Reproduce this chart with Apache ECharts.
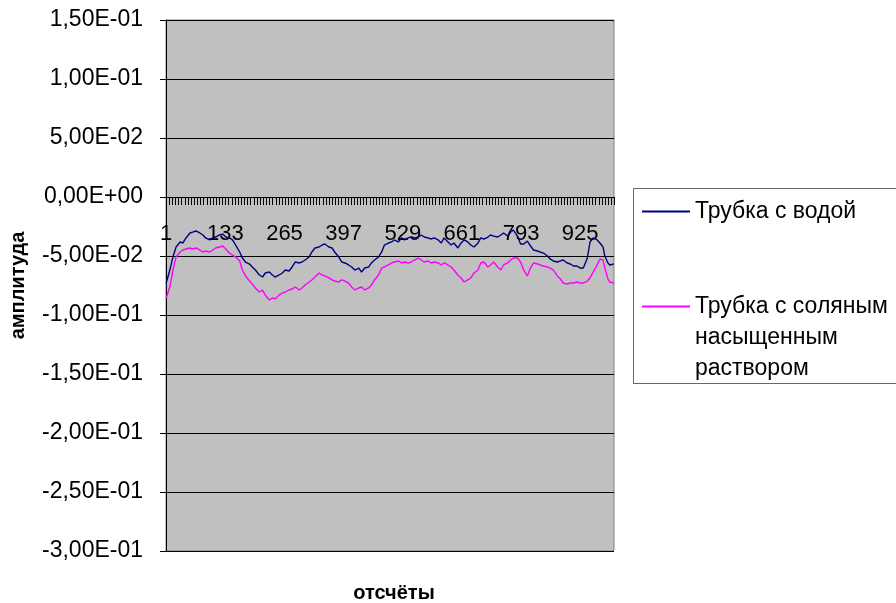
<!DOCTYPE html>
<html>
<head>
<meta charset="utf-8">
<script src="https://cdn.jsdelivr.net/npm/echarts@6/dist/echarts.min.js"></script>
<style>
  html, body { margin: 0; padding: 0; background: #fff; }
  #chart { width: 896px; height: 603px; }
</style>
</head>
<body>
<div id="chart"></div>
<script>
// ---- data ----
const sampleCount = 1000; // number of samples (категории 1..1000)
const categories = Array.from({ length: sampleCount }, (_, i) => String(i + 1));

const seriesNames = ['Трубка с водой', 'Трубка с соляным насыщенным раствором'];
const legendLabels = ['Трубка с водой', '\n\nТрубка с соляным\nнасыщенным\nраствором'];

const xTitle = 'отсчёты';
const yTitle = 'амплитуда';

const sampleIdx = [
  0, 8, 15, 22, 31, 37, 44, 53, 59, 66,
  75, 82, 88, 97, 104, 110, 119, 126, 133, 141,
  148, 155, 164, 170, 177, 186, 192, 199, 208, 215,
  221, 230, 237, 243, 252, 259, 266, 274, 281, 288,
  297, 303, 310, 319, 325, 332, 341, 348, 354, 363,
  370, 376, 385, 392, 399, 407, 414, 421, 430, 436,
  443, 452, 458, 465, 474, 481, 487, 496, 503, 509,
  518, 525, 532, 540, 547, 554, 563, 569, 576, 585,
  591, 598, 607, 614, 620, 629, 636, 642, 651, 658,
  665, 673, 680, 687, 696, 702, 709, 718, 724, 731,
  740, 747, 753, 762, 769, 775, 784, 791, 798, 806,
  813, 820, 829, 835, 842, 851, 857, 864, 873, 880,
  886, 895, 902, 909, 917, 924, 931, 940, 946, 953,
  962, 968, 975, 979, 986, 990, 999
];

const waterValues = [
  -0.0729, -0.0619, -0.0508, -0.0424, -0.0381, -0.0390, -0.0347, -0.0305, -0.0297, -0.0288,
  -0.0305, -0.0322, -0.0347, -0.0364, -0.0347, -0.0339, -0.0322, -0.0314, -0.0339, -0.0347,
  -0.0364, -0.0407, -0.0466, -0.0517, -0.0551, -0.0568, -0.0593, -0.0619, -0.0661, -0.0678,
  -0.0644, -0.0636, -0.0661, -0.0678, -0.0661, -0.0644, -0.0619, -0.0627, -0.0593, -0.0551,
  -0.0559, -0.0551, -0.0534, -0.0508, -0.0466, -0.0432, -0.0424, -0.0407, -0.0398, -0.0424,
  -0.0432, -0.0466, -0.0508, -0.0551, -0.0559, -0.0576, -0.0593, -0.0619, -0.0602, -0.0636,
  -0.0602, -0.0593, -0.0559, -0.0534, -0.0508, -0.0466, -0.0407, -0.0390, -0.0381, -0.0364,
  -0.0381, -0.0347, -0.0364, -0.0347, -0.0339, -0.0347, -0.0339, -0.0322, -0.0339, -0.0347,
  -0.0356, -0.0347, -0.0364, -0.0390, -0.0347, -0.0381, -0.0407, -0.0390, -0.0432, -0.0390,
  -0.0364, -0.0381, -0.0407, -0.0424, -0.0390, -0.0347, -0.0356, -0.0339, -0.0322, -0.0331,
  -0.0339, -0.0322, -0.0305, -0.0331, -0.0297, -0.0280, -0.0331, -0.0398, -0.0398, -0.0373,
  -0.0415, -0.0449, -0.0458, -0.0466, -0.0475, -0.0500, -0.0525, -0.0542, -0.0551, -0.0542,
  -0.0534, -0.0559, -0.0568, -0.0585, -0.0585, -0.0602, -0.0602, -0.0517, -0.0381, -0.0347,
  -0.0364, -0.0390, -0.0424, -0.0500, -0.0559, -0.0576, -0.0568
];

const salineValues = [
  -0.0856, -0.0763, -0.0619, -0.0508, -0.0466, -0.0449, -0.0441, -0.0432, -0.0441, -0.0432,
  -0.0449, -0.0466, -0.0458, -0.0466, -0.0449, -0.0432, -0.0424, -0.0415, -0.0441, -0.0475,
  -0.0492, -0.0508, -0.0542, -0.0619, -0.0669, -0.0712, -0.0737, -0.0771, -0.0805, -0.0788,
  -0.0831, -0.0873, -0.0856, -0.0864, -0.0831, -0.0814, -0.0805, -0.0788, -0.0780, -0.0763,
  -0.0788, -0.0771, -0.0746, -0.0720, -0.0703, -0.0678, -0.0644, -0.0661, -0.0669, -0.0686,
  -0.0703, -0.0712, -0.0720, -0.0703, -0.0712, -0.0729, -0.0763, -0.0788, -0.0771, -0.0763,
  -0.0788, -0.0771, -0.0746, -0.0703, -0.0661, -0.0602, -0.0593, -0.0576, -0.0559, -0.0551,
  -0.0542, -0.0559, -0.0551, -0.0559, -0.0551, -0.0534, -0.0517, -0.0534, -0.0551, -0.0542,
  -0.0559, -0.0551, -0.0559, -0.0576, -0.0559, -0.0576, -0.0593, -0.0619, -0.0661, -0.0686,
  -0.0720, -0.0703, -0.0686, -0.0644, -0.0619, -0.0559, -0.0551, -0.0593, -0.0576, -0.0551,
  -0.0593, -0.0619, -0.0576, -0.0559, -0.0534, -0.0517, -0.0517, -0.0551, -0.0619, -0.0669,
  -0.0602, -0.0559, -0.0568, -0.0576, -0.0585, -0.0593, -0.0602, -0.0619, -0.0669, -0.0695,
  -0.0729, -0.0737, -0.0729, -0.0729, -0.0720, -0.0729, -0.0729, -0.0712, -0.0686, -0.0636,
  -0.0576, -0.0525, -0.0534, -0.0602, -0.0695, -0.0720, -0.0729
];

const yMin = -0.3, yMax = 0.15, yStep = 0.05;

// ---- helpers ----
function sci(v) {
  if (Math.abs(v) < 1e-12) v = 0;
  const s = v.toExponential(2);
  const parts = s.split('e');
  const sign = parts[1][0] === '-' ? '-' : '+';
  const ex = parts[1].replace(/^[+-]/, '').padStart(2, '0');
  return parts[0].replace('.', ',') + 'E' + sign + ex;
}
const FONT = "'Liberation Sans', Arial, sans-serif";

const gridTop = 20, gridHeight = 531;
// category axis crosses the value axis at 0: shift it up from the grid bottom accordingly
const zeroOffset = -gridHeight * (0 - yMin) / (yMax - yMin);

const chart = echarts.init(document.getElementById('chart'), null, { renderer: 'canvas' });

const legendText = { fontFamily: FONT, fontSize: 23, color: '#000', lineHeight: 31 };

chart.setOption({
  animation: false,
  backgroundColor: '#ffffff',
  title: [{
    text: xTitle,
    left: 389, top: 578, textAlign: 'center',
    textStyle: { fontFamily: FONT, fontSize: 20, fontWeight: 'bold', color: '#000' }
  }],
  grid: {
    left: 163, top: gridTop, width: 451, height: gridHeight,
    show: true, backgroundColor: '#c0c0c0', borderColor: '#808080', borderWidth: 1
  },
  legend: [
    {
      data: [seriesNames[0]], orient: 'vertical', left: 642, top: 196, padding: 0,
      itemWidth: 48, itemHeight: 2, icon: 'rect', selectedMode: false,
      formatter: () => legendLabels[0],
      textStyle: legendText
    },
    {
      data: [seriesNames[1]], orient: 'vertical', left: 642, top: 229, padding: 0,
      itemWidth: 48, itemHeight: 2, icon: 'rect', selectedMode: false,
      formatter: () => legendLabels[1],
      textStyle: legendText
    }
  ],
  graphic: [{
    type: 'rect', silent: true, z: -1,
    shape: { x: 633.5, y: 188.5, width: 300, height: 195 },
    style: { fill: '#ffffff', stroke: '#666666', lineWidth: 1 }
  }],
  xAxis: {
    type: 'category',
    data: categories,
    boundaryGap: true,
    position: 'bottom',
    offset: zeroOffset,
    axisLine: { show: true, onZero: false, lineStyle: { color: '#000', width: 1 } },
    axisTick: { show: true, interval: 6, length: 8, lineStyle: { color: '#000', width: 1 } },
    axisLabel: {
      interval: 131, margin: 26, fontFamily: FONT, fontSize: 22, color: '#000'
    },
    splitLine: { show: false }
  },
  yAxis: {
    type: 'value',
    min: yMin, max: yMax, interval: yStep,
    name: yTitle, nameLocation: 'middle', nameGap: 138,
    nameTextStyle: { fontFamily: FONT, fontSize: 20, fontWeight: 'bold', color: '#000' },
    axisLine: { show: true, lineStyle: { color: '#000', width: 1 } },
    axisTick: { show: true, length: 6, lineStyle: { color: '#000' } },
    axisLabel: { margin: 23, fontFamily: FONT, fontSize: 23, color: '#000', formatter: sci },
    splitLine: { show: true, lineStyle: { color: '#000', width: 1 } }
  },
  series: [
    {
      name: seriesNames[0], type: 'line', showSymbol: false, symbol: 'none',
      color: '#000080',
      lineStyle: { color: '#000080', width: 1.4 },
      data: sampleIdx.map((k, i) => [k, waterValues[i]])
    },
    {
      name: seriesNames[1], type: 'line', showSymbol: false, symbol: 'none',
      color: '#ff00ff',
      lineStyle: { color: '#ff00ff', width: 1.4 },
      data: sampleIdx.map((k, i) => [k, salineValues[i]])
    }
  ]
});
</script>
</body>
</html>
